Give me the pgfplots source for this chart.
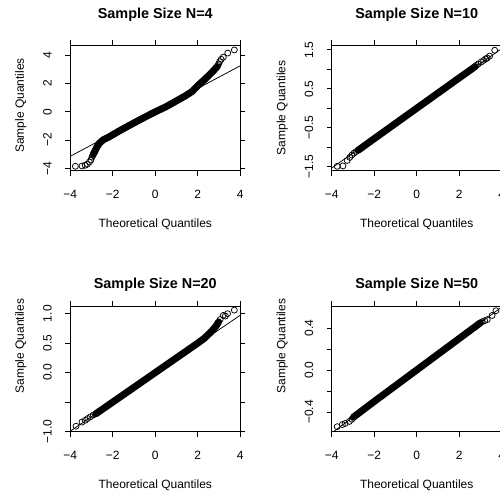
\documentclass[border=0pt]{standalone}
\usepackage{fontspec}
\setmainfont{Liberation Sans}
\usepackage{pgfplots}
\pgfplotsset{compat=1.18}
\pgfplotsset{
  rqq/.style={
    scale only axis, width=170bp, height=125.8bp,
    xmin=-4, xmax=4,
    axis line style={line width=0.9bp},
    tick align=outside, major tick length=5bp,
    tick style={line width=0.9bp, black},
    xtick={-4,-2,0,2,4}, xticklabels={−4,−2,0,2,4},
    ticklabel style={font=\fontsize{12bp}{14bp}\selectfont},
    xticklabel style={anchor=base, yshift=-23.1bp},
    yticklabel style={xshift=-13.6bp, rotate=90, anchor=base},
    every axis x label/.style={at={(axis description cs:0.5,-0.449)}, anchor=base, font=\fontsize{12bp}{14bp}\selectfont},
    xlabel={Theoretical Quantiles}, ylabel={Sample Quantiles},
  },
  ylab/.style={every axis y label/.style={at={(axis description cs:-0.2724,#1)}, rotate=90, anchor=base, font=\fontsize{12bp}{14bp}\selectfont}},
  toptitle/.style={every axis title/.style={at={(axis description cs:0.5,1.2067)}, anchor=base, font=\bfseries\fontsize{14.4bp}{17bp}\selectfont}},
  bottitle/.style={every axis title/.style={at={(axis description cs:0.5,1.1407)}, anchor=base, font=\bfseries\fontsize{14.4bp}{17bp}\selectfont}},
  band/.style={line width=7bp, line join=round, line cap=round, black},
  pts/.style={only marks, mark=o, mark size=3bp, mark options={line width=0.75bp, black}},
  refl/.style={line width=0.75bp, black},
}
\begin{document}
\begin{tikzpicture}
\useasboundingbox (0,0) rectangle (500bp,496bp);
% ---------- N=4 ----------
\begin{axis}[rqq, toptitle, ylab=0.52, at={(70.3bp,325.2bp)}, anchor=south west,
  title={Sample Size N=4}, ymin=-4.17, ymax=4.73,
  ytick={-4,-2,0,2,4}, yticklabels={−4,−2,0,2,4}]
\addplot[band] coordinates {
(-2.92,-3.0) (-2.86,-2.84) (-2.75,-2.49) (-2.62,-2.2) (-2.45,-1.98) (-2.2,-1.79)
(-1.6,-1.27) (-1.0,-0.78) (-0.5,-0.38) (0,0.0) (0.5,0.36) (1.0,0.78) (1.4,1.12)
(1.73,1.44) (2.0,1.85) (2.35,2.33) (2.67,2.8) (2.9,3.18)};
\addplot[pts] coordinates {
(-3.76,-3.85) (-3.45,-3.83) (-3.3,-3.78) (-3.2,-3.7) (-3.1,-3.55) (-3.03,-3.4)
(-2.98,-3.2) (-2.94,-3.08)
(2.95,3.28) (2.98,3.4) (3.03,3.55) (3.1,3.72) (3.2,3.87) (3.41,4.16) (3.72,4.38)};
\addplot[refl] coordinates {(-4.2,-3.3) (4.2,3.42)};
\end{axis}
% ---------- N=10 ----------
\begin{axis}[rqq, toptitle, ylab=0.5, at={(331.7bp,325.2bp)}, anchor=south west,
  title={Sample Size N=10}, ymin=-1.605, ymax=1.625,
  ytick={-1.5,-1,-0.5,0,0.5,1,1.5}, yticklabels={−1.5,{},−0.5,{},0.5,{},1.5}]
\addplot[band] coordinates {
(-2.76,-1.08) (-2,-0.78) (-1,-0.39) (0,0) (1,0.39) (2,0.78) (2.57,1.0) (2.75,1.07)};
\addplot[pts] coordinates {
(-3.74,-1.49) (-3.47,-1.48) (-3.27,-1.34) (-3.15,-1.26) (-3.05,-1.2) (-2.95,-1.15) (-2.85,-1.11)
(2.8,1.1) (2.9,1.14) (3.04,1.19) (3.15,1.23) (3.25,1.27) (3.32,1.29) (3.43,1.34) (3.67,1.49)};
\addplot[refl] coordinates {(-4.2,-1.61) (4.2,1.61)};
\end{axis}
% ---------- N=20 ----------
\begin{axis}[rqq, bottitle, ylab=0.68, at={(70.3bp,64.2bp)}, anchor=south west,
  title={Sample Size N=20}, ymin=-1.005, ymax=1.13,
  ytick={-1,-0.5,0,0.5,1}, yticklabels={−1.0,{},0.0,0.5,1.0}]
\addplot[band] coordinates {
(-2.8,-0.70) (-2,-0.50) (-1,-0.25) (0,0) (1,0.25) (2,0.5) (2.3,0.58) (2.62,0.69) (2.86,0.79) (2.98,0.86)};
\addplot[pts] coordinates {
(-3.73,-0.91) (-3.45,-0.84) (-3.3,-0.81) (-3.18,-0.78) (-3.05,-0.75) (-2.92,-0.72)
(3.05,0.9) (3.2,0.97) (3.3,0.96) (3.4,1.0) (3.72,1.06)};
\addplot[refl] coordinates {(-4.2,-1.043) (4.2,1.023)};
\end{axis}
% ---------- N=50 ----------
\begin{axis}[rqq, bottitle, ylab=0.68, at={(331.7bp,64.2bp)}, anchor=south west,
  title={Sample Size N=50}, ymin=-0.589, ymax=0.61,
  ytick={-0.4,-0.2,0,0.2,0.4}, yticklabels={−0.4,{},0.0,{},0.4}]
\addplot[band] coordinates {
(-2.98,-0.45) (-2,-0.30) (0,0) (2,0.30) (3.0,0.45)};
\addplot[pts] coordinates {
(-3.74,-0.54) (-3.5,-0.52) (-3.37,-0.51) (-3.17,-0.49) (-3.05,-0.47)
(3.08,0.46) (3.2,0.47) (3.32,0.48) (3.55,0.52) (3.73,0.565)};
\addplot[refl] coordinates {(-4.2,-0.63) (4.2,0.63)};
\end{axis}
\end{tikzpicture}
\end{document}
